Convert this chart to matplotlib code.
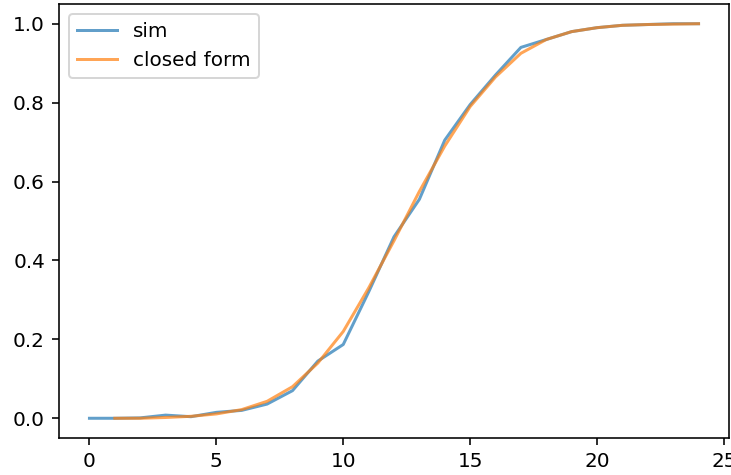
import numpy as np
import matplotlib
matplotlib.use("Agg")
import matplotlib.pyplot as plt

# simulated fraction vs. closed form estimate
sim_x = np.arange(0, 25)
sim_y = [0.0, 0.0, 0.001, 0.008, 0.004, 0.015, 0.02, 0.036, 0.07, 0.145,
         0.187, 0.32, 0.46, 0.555, 0.705, 0.795, 0.87, 0.94, 0.96, 0.98,
         0.99, 0.996, 0.998, 1.0, 1.0]

closed_x = np.arange(1, 25)
closed_y = [0.0, 0.0, 0.002, 0.005, 0.011, 0.022, 0.043, 0.08, 0.14,
            0.22, 0.33, 0.45, 0.575, 0.69, 0.79, 0.865, 0.925, 0.96, 0.98,
            0.99, 0.996, 0.998, 0.999, 1.0]

fig = plt.figure(figsize=(731 / 144, 475 / 144), dpi=144)
ax = fig.add_axes([59 / 731, (475 - 438) / 475, 670 / 731, 434 / 475])

ax.plot(sim_x, sim_y, alpha=0.7, label="sim")
ax.plot(closed_x, closed_y, alpha=0.7, label="closed form")
ax.legend(loc="upper left")

fig.savefig("out.png", dpi=144)
